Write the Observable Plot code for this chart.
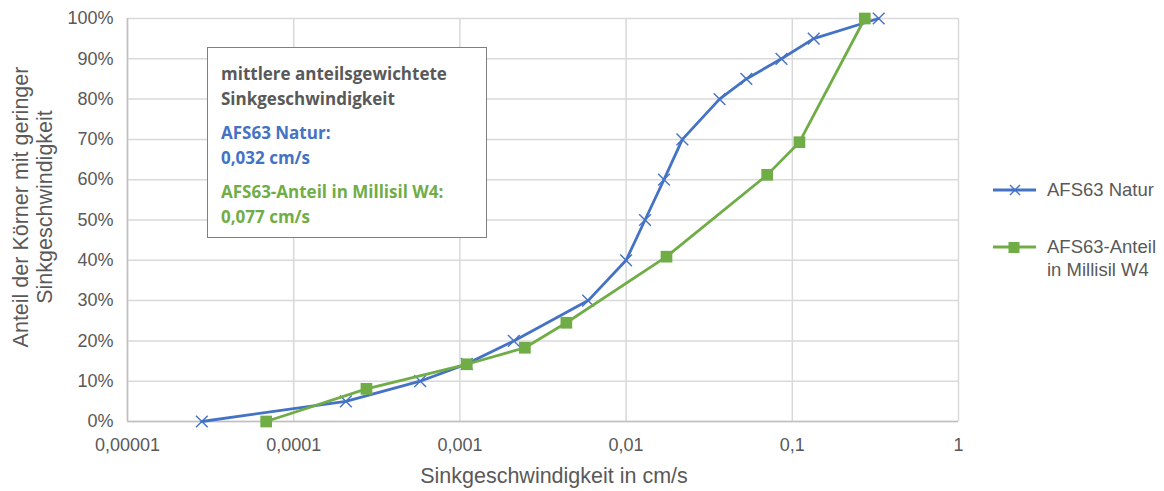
<!DOCTYPE html>
<html><head><meta charset="utf-8">
<script src="https://cdn.jsdelivr.net/npm/d3@7"></script>
<script src="https://cdn.jsdelivr.net/npm/@observablehq/plot@0.6"></script>
<style>
body{margin:0;background:#fff;}
#chart{position:relative;width:1164px;height:491px;}
</style></head>
<body><div id="chart"></div>
<script>
// Data
const seriesNames = ["AFS63 Natur", "AFS63-Anteil in Millisil W4"];
const naturSpeed = [0.000028, 0.000206, 0.000577, 0.00110, 0.00211, 0.00591, 0.0100, 0.0130, 0.0169, 0.0218, 0.0365, 0.0529, 0.0861, 0.1345, 0.331];
const naturShare = [0, 0.05, 0.10, 0.143, 0.20, 0.30, 0.40, 0.50, 0.60, 0.70, 0.80, 0.85, 0.90, 0.95, 1.00];
const millisilSpeed = [0.0000683, 0.000274, 0.00110, 0.00246, 0.00437, 0.0175, 0.0706, 0.1104, 0.273];
const millisilShare = [0, 0.081, 0.142, 0.183, 0.245, 0.409, 0.612, 0.693, 1.00];
const xTicks = [0.00001, 0.0001, 0.001, 0.01, 0.1, 1];
const xTickLabels = ["0,00001", "0,0001", "0,001", "0,01", "0,1", "1"];
const yTicks = [0, 0.1, 0.2, 0.3, 0.4, 0.5, 0.6, 0.7, 0.8, 0.9, 1.0];
const yTickLabels = ["0%", "10%", "20%", "30%", "40%", "50%", "60%", "70%", "80%", "90%", "100%"];
const xTitle = "Sinkgeschwindigkeit in cm/s";
const yTitle = ["Anteil der Körner mit geringer", "Sinkgeschwindigkeit"];
const boxTitle = ["mittlere anteilsgewichtete", "Sinkgeschwindigkeit"];
const boxNatur = ["AFS63 Natur:", "0,032 cm/s"];
const boxMillisil = ["AFS63-Anteil in Millisil W4:", "0,077 cm/s"];
const legendLabels = [["AFS63 Natur"], ["AFS63-Anteil", "in Millisil W4"]];

const BLUE = "#4472C4", GREEN = "#70AD47", GRAY = "#595959";
const natur = naturSpeed.map((v, i) => ({x: v, y: naturShare[i]}));
const millisil = millisilSpeed.map((v, i) => ({x: v, y: millisilShare[i]}));
const fmtX = new Map(xTicks.map((t, i) => [t, xTickLabels[i]]));
const fmtY = new Map(yTicks.map((t, i) => [t, yTickLabels[i]]));

const plot = Plot.plot({
  width: 1164, height: 491,
  marginLeft: 127, marginRight: 206, marginTop: 18, marginBottom: 70,
  style: {fontFamily: "'Liberation Sans', Arial, sans-serif", fontSize: "18px", color: GRAY, background: "#fff"},
  x: {type: "log", domain: [0.00001, 1], ticks: xTicks, tickFormat: d => fmtX.get(d) ?? "", label: null},
  y: {domain: [0, 1], ticks: yTicks, tickFormat: d => fmtY.get(Math.round(d*10)/10) ?? "", label: null},
  marks: [
    Plot.gridX(xTicks, {stroke: "#d9d9d9", strokeOpacity: 1, strokeWidth: 1.5}),
    Plot.gridY(yTicks, {stroke: "#d9d9d9", strokeOpacity: 1, strokeWidth: 1.5}),
    Plot.ruleX([0.00001], {stroke: "#bfbfbf", strokeWidth: 1.5}),
    Plot.ruleY([0], {stroke: "#bfbfbf", strokeWidth: 1.5}),
    Plot.axisX(xTicks, {tickSize: 0, tickPadding: 17, fontSize: 18, fill: GRAY, tickFormat: d => fmtX.get(d)}),
    Plot.axisY(yTicks, {tickSize: 0, tickPadding: 14, fontSize: 18, fill: GRAY, tickFormat: d => fmtY.get(Math.round(d*10)/10)}),
    Plot.line(natur, {x: "x", y: "y", stroke: BLUE, strokeWidth: 2.8}),
    Plot.dot(natur, {x: "x", y: "y", symbol: "times", r: 5.4, stroke: BLUE, strokeWidth: 1.4}),
    Plot.line(millisil, {x: "x", y: "y", stroke: GREEN, strokeWidth: 2.8}),
    Plot.dot(millisil, {x: "x", y: "y", symbol: "square", r: 6.6, fill: GREEN, stroke: "none"})
  ]
});
document.getElementById("chart").appendChild(plot);

const svg = d3.select(plot);
const font = "'Liberation Sans', Arial, sans-serif";
function txt(parent, x, y, t, size, color, opts = {}) {
  return parent.append("text").attr("x", x).attr("y", y)
    .attr("text-anchor", opts.anchor || "start")
    .style("font-family", opts.family || font)
    .style("font-size", size + "px")
    .style("font-weight", opts.weight || "normal")
    .attr("fill", color).text(t);
}
// axis titles
txt(svg, 554, 483, xTitle, 21.5, GRAY, {anchor: "middle"});
yTitle.forEach((t, i) => {
  txt(svg, 0, 0, t, 21.5, GRAY, {anchor: "middle"})
    .attr("transform", `translate(${28 + i*24},207) rotate(-90)`);
});
// annotation box
const bf = "'Open Sans', 'Noto Sans', sans-serif";
svg.append("rect").attr("x", 207.5).attr("y", 47.5).attr("width", 279).attr("height", 190)
  .attr("fill", "#fff").attr("stroke", "#7f7f7f").attr("stroke-width", 1);
const lines = [
  [boxTitle[0], GRAY, 80], [boxTitle[1], GRAY, 105],
  [boxNatur[0], BLUE, 139], [boxNatur[1], BLUE, 164],
  [boxMillisil[0], GREEN, 198], [boxMillisil[1], GREEN, 223]
];
lines.forEach(([t, c, y]) => txt(svg, 221, y, t, 17, c, {family: bf, weight: "bold"}));
// legend
const lg = svg.append("g");
lg.append("line").attr("x1", 993).attr("x2", 1036).attr("y1", 190).attr("y2", 190).attr("stroke", BLUE).attr("stroke-width", 2.8);
lg.append("path").attr("d", "M1010,185 L1020,195 M1020,185 L1010,195").attr("stroke", BLUE).attr("stroke-width", 1.4).attr("fill", "none");
txt(lg, 1047, 196, legendLabels[0][0], 18.5, GRAY);
lg.append("line").attr("x1", 993).attr("x2", 1036).attr("y1", 247).attr("y2", 247).attr("stroke", GREEN).attr("stroke-width", 2.8);
lg.append("rect").attr("x", 1008.5).attr("y", 242).attr("width", 11).attr("height", 11).attr("fill", GREEN);
legendLabels[1].forEach((t, i) => txt(lg, 1047, 253 + i*23, t, 18.5, GRAY));
</script>
</body></html>
